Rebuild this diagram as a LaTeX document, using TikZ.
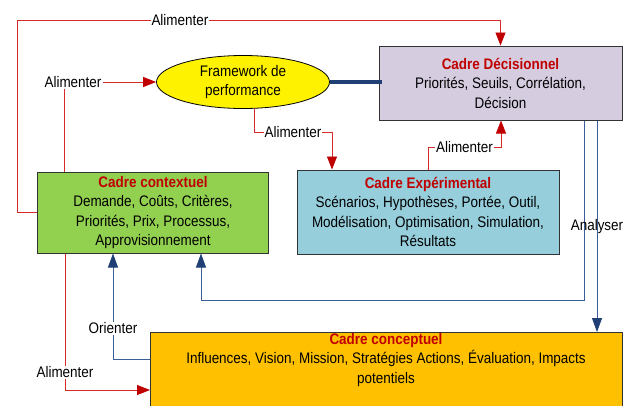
\documentclass[tikz,border=0pt]{standalone}
\usepackage{fontspec}
\setmainfont{Liberation Sans}[FakeStretch=0.88]
\usetikzlibrary{arrows.meta,shapes.geometric}
\definecolor{redline}{HTML}{D42A2A}
\definecolor{redhead}{HTML}{C00000}
\definecolor{blueline}{HTML}{3A5E98}
\definecolor{bluehead}{HTML}{1F3F75}
\definecolor{decfill}{HTML}{D5CCE0}
\definecolor{ctxfill}{HTML}{92D050}
\definecolor{expfill}{HTML}{96CEDC}
\definecolor{cptfill}{HTML}{FFC000}
\newcommand{\cadretitle}[1]{{\color{redhead}\bfseries #1}}

\begin{document}
\begin{tikzpicture}[x=1bp, y=-1bp, font=\fontsize{15.3bp}{19.5bp}\selectfont,
  box/.style={draw=black!80, line width=1bp, align=center, inner sep=0pt},
  lbl/.style={fill=white, inner sep=1bp},
  redln/.style={draw=redline, line width=0.8bp},
  redarr/.style={redln, -{Triangle[length=13bp,width=10bp,color=redhead]}},
  bluln/.style={draw=blueline, line width=0.8bp},
  bluarr/.style={bluln, -{Triangle[length=14bp,width=10bp,color=bluehead]}}]
\useasboundingbox (0,0) rectangle (634,405);

\node[box, fill=decfill, minimum width=243bp, minimum height=74bp] (dec) at (500.5,83)
  {\cadretitle{Cadre Décisionnel}\\Priorités, Seuils, Corrélation,\\Décision};
\node[ellipse, draw=black, line width=0.8bp, fill=yellow, minimum width=173bp, minimum height=53bp,
  inner sep=0pt, align=center] (fw) at (243,82) {Framework de\\performance};
\node[box, fill=ctxfill, minimum width=230bp, minimum height=81bp] (ctx) at (153,212.5)
  {\cadretitle{Cadre contextuel}\\Demande, Coûts, Critères,\\Priorités, Prix, Processus,\\Approvisionnement};
\node[box, fill=expfill, minimum width=262bp, minimum height=84bp] (exp) at (428,212)
  {\cadretitle{Cadre Expérimental}\\Scénarios, Hypothèses, Portée, Outil,\\Modélisation, Optimisation, Simulation,\\Résultats};
\node[box, fill=cptfill, minimum width=472bp, minimum height=90bp, anchor=north west] (cpt) at (150,332) {};
\node[align=center, anchor=north, inner sep=0pt] (cpttxt) at (386,333)
  {\cadretitle{Cadre conceptuel}\\Influences, Vision, Mission, Stratégies Actions, Évaluation, Impacts\\potentiels};

\coordinate (topl) at (17,20);
\coordinate (c2) at (64,0);
\coordinate (c3) at (254,132);
\coordinate (c4) at (332,132);
\coordinate (c5) at (428,147);
\coordinate (c6) at (501,147);
\coordinate (c7) at (584,300);
\coordinate (c8) at (201,300);
\coordinate (c9) at (597,0);
\coordinate (c10) at (113,359);
\coordinate (c11) at (65,390);

\draw[redarr] (ctx.west) -| (topl) -- node[lbl, pos=0.337] {Alimenter} (topl -| dec.north) -- (dec.north);
\node[lbl] (al) at (73,82) {Alimenter};
\draw[redln] (ctx.north -| c2) -- (al.south -| c2);
\draw[redarr] (al.east) -- (fw.west);
\draw[redarr] (fw.south -| c3) -- (c3) -- node[lbl] {Alimenter} (c4) -- (exp.north -| c4);
\draw[redarr] (exp.north -| c5) -- (c5) -- node[lbl] {Alimenter} (c6) -- (dec.south -| c6);
\draw[redarr] (ctx.south -| c11) -- node[lbl, pos=0.87] {Alimenter} (c11) -- (cpt.west |- c11);

\draw[bluehead, line width=4bp] (fw.east) -- ([xshift=3bp]fw.east -| dec.west);
\draw[bluarr] (dec.south -| c7) -- (c7) -- (c8) -- (ctx.south -| c8);
\draw[bluarr] (dec.south -| c9) -- node[inner sep=1bp] {Analyser} (cpt.north -| c9);
\draw[bluarr] (cpt.west |- c10) -- (c10) -- node[lbl, pos=0.29] {Orienter} (ctx.south -| c10);
\end{tikzpicture}
\end{document}
